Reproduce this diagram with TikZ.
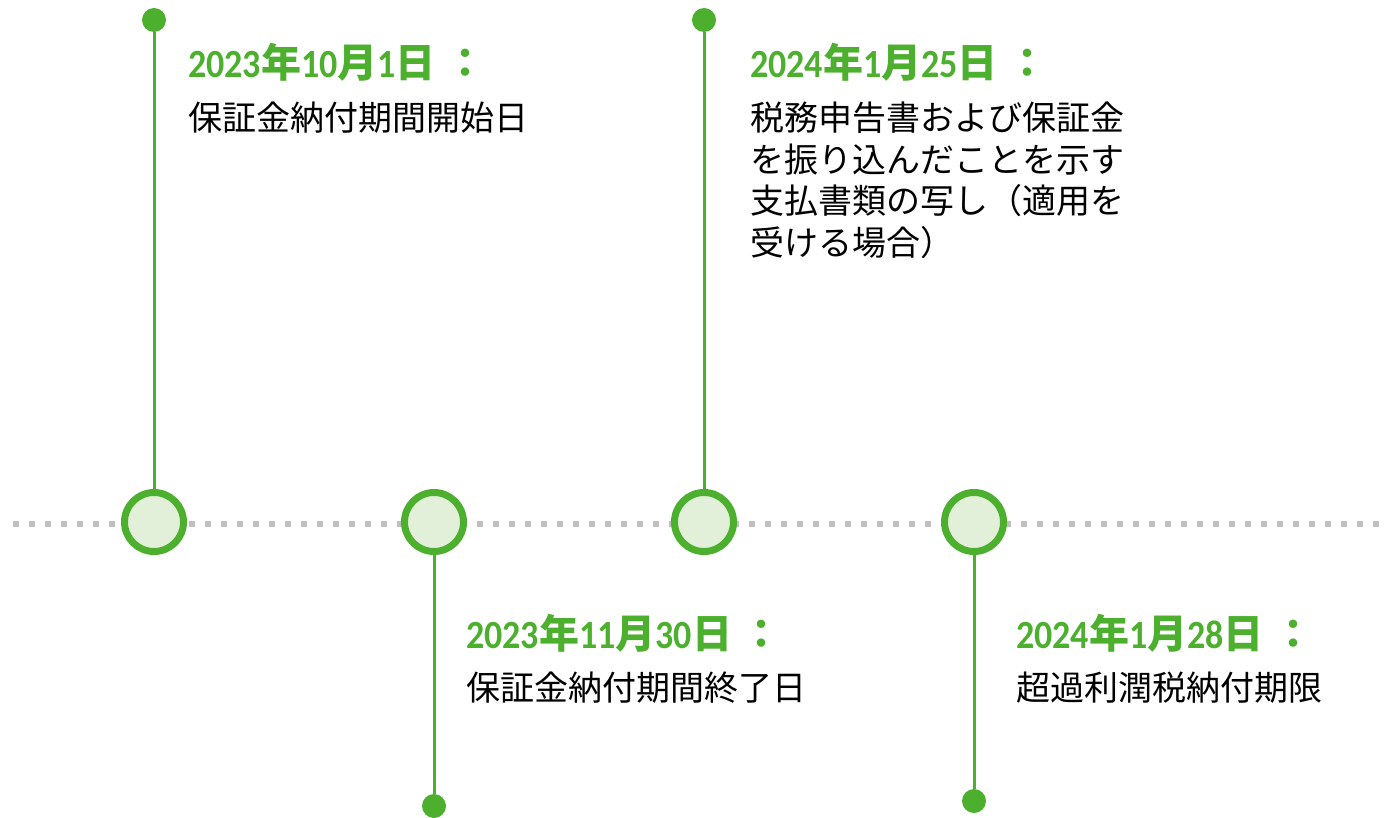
\documentclass[tikz,border=0pt]{standalone}
\usepackage{fontspec}
\setmainfont{Noto Sans CJK JP}
\newfontfamily\jpfont{Noto Sans CJK JP}
\newfontfamily\numfont[FakeStretch=0.9]{Carlito}
\definecolor{grn}{HTML}{4CB02E}
\definecolor{lgrn}{HTML}{E2F0D9}
\definecolor{dotgray}{HTML}{BFBFBF}
\newcommand{\dnum}[1]{{\numfont\fontsize{40}{40}\selectfont\bfseries #1}}
\newcommand{\dkan}[1]{{\jpfont\fontsize{40}{40}\selectfont\bfseries #1}}
\tikzset{
  mark circle/.style={circle, draw=grn, line width=7pt, fill=lgrn, minimum size=59pt, inner sep=0pt},
  end dot/.style={circle, fill=grn, minimum size=24pt, inner sep=0pt},
  stem/.style={draw=grn, line width=3pt},
  datetext/.style={anchor=base west, inner sep=0pt, text=grn},
  desctext/.style={anchor=base west, inner sep=0pt, align=left, font=\jpfont\fontsize{34}{41.5}\selectfont},
  timeline/.style={draw=dotgray, line width=6pt, dash pattern=on 6pt off 10pt}
}
\begin{document}
\begin{tikzpicture}[x=1pt,y=-1pt]
\useasboundingbox (0,0) rectangle (1386,818);
\coordinate (tlA) at (13,524);
\coordinate (tlB) at (1386,524);
\draw[timeline] (tlA) -- (tlB);

\node[end dot] (d1) at (154,20) {};
\node[end dot] (d2) at (434,806) {};
\node[end dot] (d3) at (704,20) {};
\node[end dot] (d4) at (974,801) {};

\node[mark circle] (c1) at (154,522) {};
\node[mark circle] (c2) at (434,522) {};
\node[mark circle] (c3) at (704,522) {};
\node[mark circle] (c4) at (974,522) {};

\draw[stem] (c1) -- (d1);
\draw[stem] (c2) -- (d2);
\draw[stem] (c3) -- (d3);
\draw[stem] (c4) -- (d4);

\node[datetext] (t1) at (188,78) {\dnum{2023}\dkan{年}\dnum{10}\dkan{月}\dnum{1}\dkan{日 ：}};
\node[desctext] (e1) at (188,131) {保証金納付期間開始日};

\node[datetext] (t2) at (466,648) {\dnum{2023}\dkan{年}\dnum{11}\dkan{月}\dnum{30}\dkan{日 ：}};
\node[desctext] (e2) at (466,700) {保証金納付期間終了日};

\node[datetext] (t3) at (750,78) {\dnum{2024}\dkan{年}\dnum{1}\dkan{月}\dnum{25}\dkan{日 ：}};
\node[desctext] (e3) at (750,255.5) {税務申告書および保証金\\を振り込んだことを示す\\支払書類の写し（適用を\\受ける場合）};

\node[datetext] (t4) at (1016,648) {\dnum{2024}\dkan{年}\dnum{1}\dkan{月}\dnum{28}\dkan{日 ：}};
\node[desctext] (e4) at (1016,700) {超過利潤税納付期限};
\end{tikzpicture}
\end{document}
